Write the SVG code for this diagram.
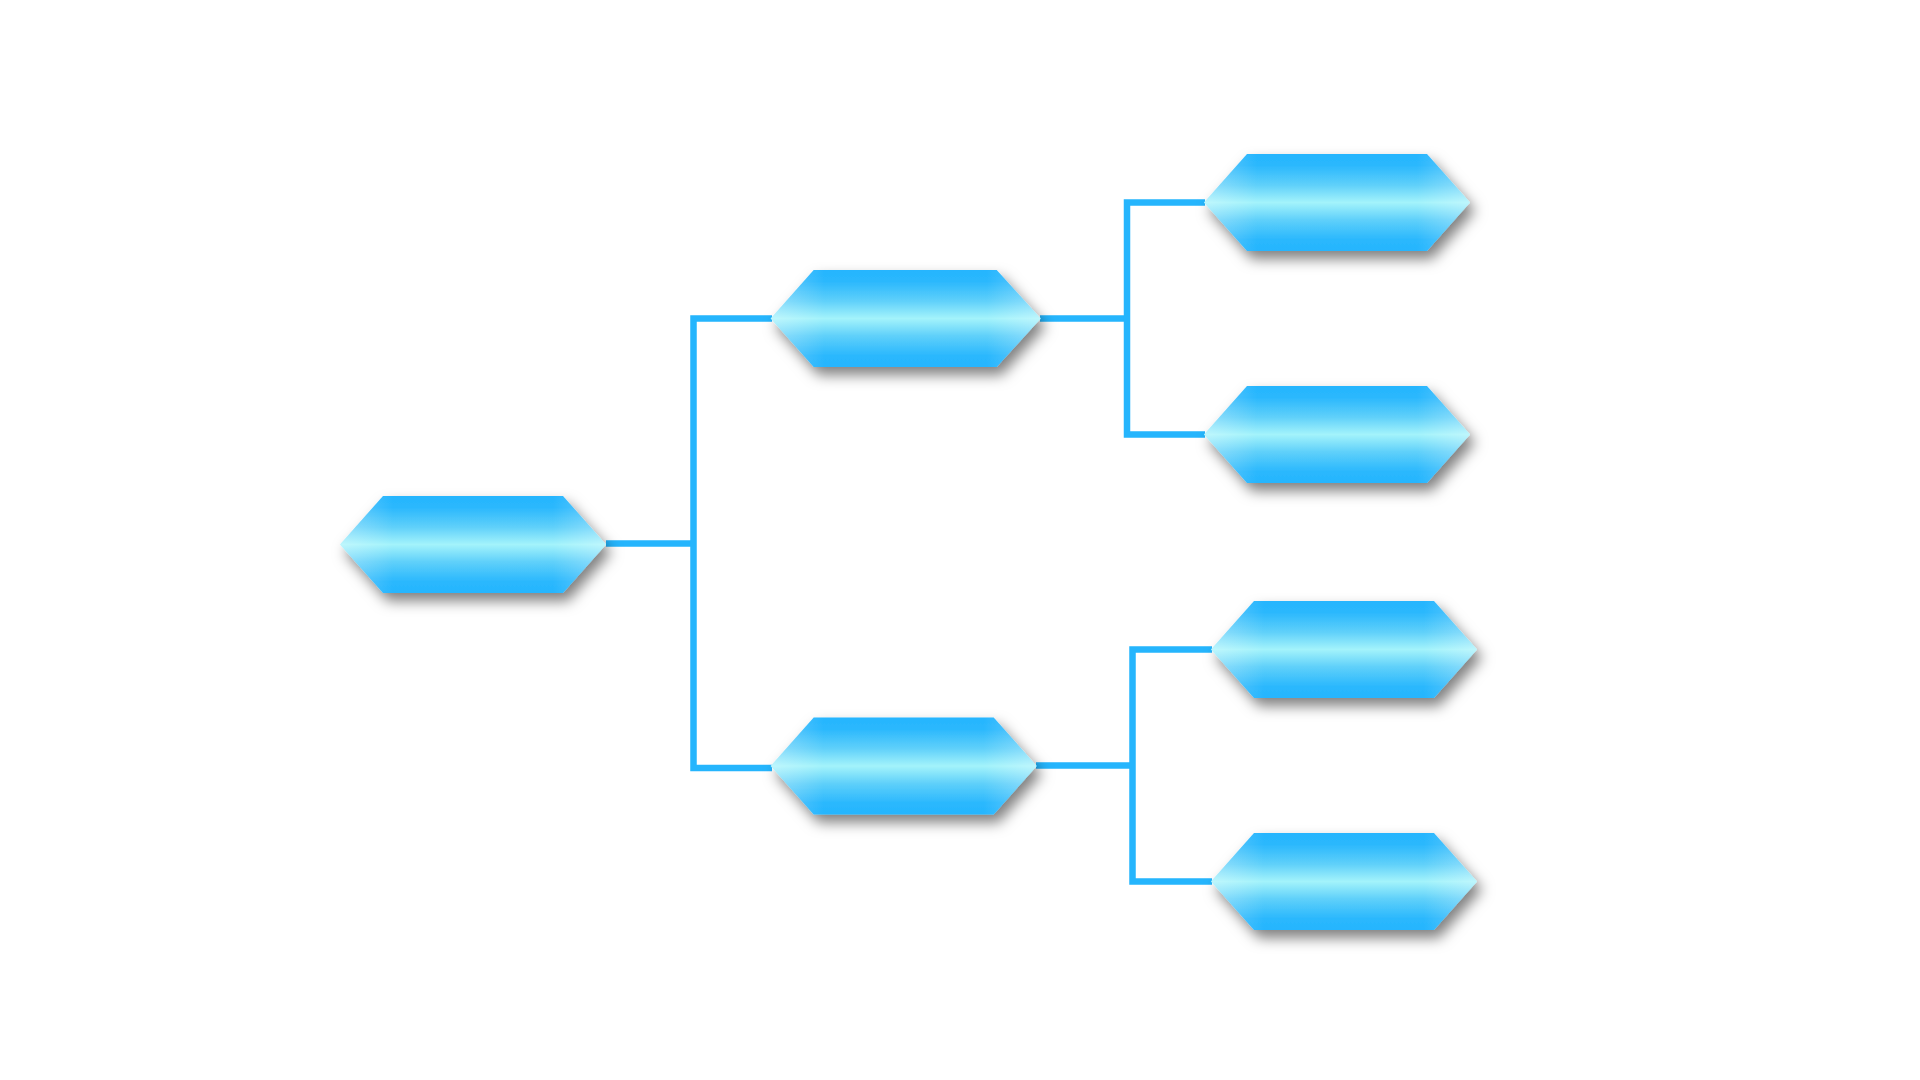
<svg xmlns="http://www.w3.org/2000/svg" width="1920" height="1080" viewBox="0 0 1920 1080">
  <defs>
    <linearGradient id="gBase" x1="0" y1="0" x2="0" y2="1">
      <stop offset="0" stop-color="#25b5fe"/>
      <stop offset="0.12" stop-color="#2bb8fd"/>
      <stop offset="0.32" stop-color="#5fd0fa"/>
      <stop offset="0.5" stop-color="#a3f3fb"/>
      <stop offset="0.68" stop-color="#5fd0fa"/>
      <stop offset="0.88" stop-color="#2bb8fd"/>
      <stop offset="1" stop-color="#25b5fe"/>
    </linearGradient>
    <linearGradient id="gEdge" x1="0" y1="0" x2="1" y2="0">
      <stop offset="0" stop-color="#ffffff" stop-opacity="0.3"/>
      <stop offset="0.2" stop-color="#ffffff" stop-opacity="0"/>
      <stop offset="0.8" stop-color="#ffffff" stop-opacity="0"/>
      <stop offset="1" stop-color="#ffffff" stop-opacity="0.3"/>
    </linearGradient>
    <filter id="shadow" x="-20%" y="-40%" width="140%" height="190%">
      <feDropShadow dx="5" dy="8" stdDeviation="7" flood-color="#000000" flood-opacity="0.5"/>
    </filter>
    <path id="hex266" d="M0 0 L43 -48.5 L223 -48.5 L266 0 L223 48.5 L43 48.5 Z"/>
    <path id="hex270" d="M0 0 L43 -48.5 L226 -48.5 L270 0 L226 48.5 L43 48.5 Z"/>
  </defs>
  <style>
    .conn { fill: none; stroke: #25b5fd; stroke-width: 6.5; stroke-linejoin: miter; stroke-linecap: butt; }
    .base { fill: url(#gBase); }
    .edge { fill: url(#gEdge); }
  </style>
  <rect width="1920" height="1080" fill="#ffffff"/>
  <g id="connectors">
    <path class="conn" d="M606 543.5 H693.5"/>
    <path class="conn" d="M772 318.5 H693.5 V768 H772"/>
    <path class="conn" d="M1040 318.5 H1127"/>
    <path class="conn" d="M1205 202.5 H1127 V434.5 H1205"/>
    <path class="conn" d="M1036 765.5 H1132.5"/>
    <path class="conn" d="M1212 649.5 H1132.5 V881.5 H1212"/>
  </g>
  <g id="node-root" transform="translate(340 544.5)">
    <g filter="url(#shadow)"><use href="#hex266" class="base"/></g>
    <use href="#hex266" class="edge"/>
  </g>
  <g id="node-a" transform="translate(770.7 318.5)">
    <g filter="url(#shadow)"><use href="#hex270" class="base"/></g>
    <use href="#hex270" class="edge"/>
  </g>
  <g id="node-b" transform="translate(770.7 766)">
    <g filter="url(#shadow)"><use href="#hex266" class="base"/></g>
    <use href="#hex266" class="edge"/>
  </g>
  <g id="node-a1" transform="translate(1204 202.5)">
    <g filter="url(#shadow)"><use href="#hex266" class="base"/></g>
    <use href="#hex266" class="edge"/>
  </g>
  <g id="node-a2" transform="translate(1204 434.5)">
    <g filter="url(#shadow)"><use href="#hex266" class="base"/></g>
    <use href="#hex266" class="edge"/>
  </g>
  <g id="node-b1" transform="translate(1211 649.5)">
    <g filter="url(#shadow)"><use href="#hex266" class="base"/></g>
    <use href="#hex266" class="edge"/>
  </g>
  <g id="node-b2" transform="translate(1211 881.5)">
    <g filter="url(#shadow)"><use href="#hex266" class="base"/></g>
    <use href="#hex266" class="edge"/>
  </g>
</svg>
